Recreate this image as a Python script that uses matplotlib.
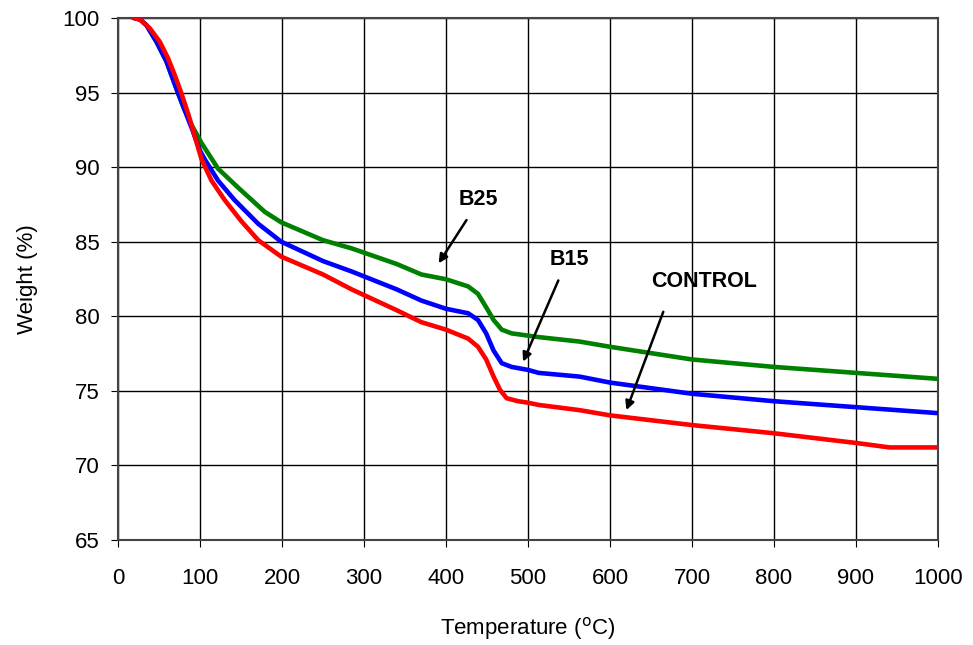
import matplotlib.pyplot as plt

# TGA curves (temperature in C, weight in %)
temp_control = [20, 27, 39, 51, 61, 69, 77, 86, 94, 102, 114, 130, 150, 171, 199, 250,
                 285, 340, 370, 400, 427, 439, 449, 458, 466, 474, 488, 500, 513, 563,
                 600, 700, 800, 900, 941, 1000]
w_control = [100, 99.9, 99.3, 98.4, 97.3, 96.2, 95.0, 93.5, 92.0, 90.5, 89.1, 87.8, 86.4,
             85.1, 84.0, 82.8, 81.8, 80.4, 79.6, 79.1, 78.5, 77.95, 77.1, 75.95, 75.05,
             74.5, 74.3, 74.2, 74.05, 73.7, 73.35, 72.7, 72.15, 71.5, 71.2, 71.2]

temp_b15 = [20, 27, 35, 47, 59, 73, 90, 100, 106, 122, 142, 171, 199, 250, 285, 340, 370,
            400, 427, 439, 449, 458, 468, 480, 500, 513, 563, 600, 700, 800, 900, 1000]
w_b15 = [100, 99.9, 99.5, 98.4, 97.1, 95.0, 92.6, 91.1, 90.5, 89.1, 87.8, 86.2, 85.0,
         83.7, 83.0, 81.8, 81.05, 80.5, 80.2, 79.75, 78.85, 77.7, 76.85, 76.6, 76.4,
         76.2, 75.95, 75.55, 74.8, 74.3, 73.9, 73.5]

temp_b25 = [20, 27, 35, 47, 59, 73, 80, 90, 102, 122, 147, 179, 199, 250, 285, 340,
            370, 400, 427, 439, 449, 458, 468, 480, 500, 513, 563, 600, 700, 800, 900, 1000]
w_b25 = [100, 99.9, 99.5, 98.4, 97.1, 95.0, 94.0, 92.8, 91.6, 89.9, 88.6, 87.0, 86.3,
         85.1, 84.55, 83.5, 82.8, 82.48, 82.0, 81.5, 80.6, 79.75, 79.1, 78.85, 78.7,
         78.6, 78.3, 77.95, 77.1, 76.6, 76.2, 75.8]

x_ticks = [0, 100, 200, 300, 400, 500, 600, 700, 800, 900, 1000]
y_ticks = [65, 70, 75, 80, 85, 90, 95, 100]

plt.rcParams['font.family'] = ['Liberation Sans', 'DejaVu Sans']

fig = plt.figure(figsize=(9.73, 6.45), dpi=100)
ax = fig.add_axes([0.1213, 0.163, 0.8427, 0.809])

ax.plot(temp_b25, w_b25, color='#008000', lw=3.3, zorder=3, solid_joinstyle='round')
ax.plot(temp_b15, w_b15, color='#0000ff', lw=3.3, zorder=4, solid_joinstyle='round')
ax.plot(temp_control, w_control, color='#ff0000', lw=3.3, zorder=5, solid_joinstyle='round')

ax.set_xlim(0, 1000)
ax.set_ylim(65, 100)
ax.set_xticks(x_ticks)
ax.set_yticks(y_ticks)
ax.tick_params(labelsize=16, direction='out', length=5, color='black')
ax.tick_params(axis='x', pad=15)
ax.tick_params(axis='y', pad=8)
ax.grid(True, color='black', lw=1)
ax.set_axisbelow(True)
for s in ax.spines.values():
    s.set_color('#444444')
    s.set_linewidth(1.5)

ax.set_xlabel('Temperature ($^{\\mathrm{o}}$C)', fontsize=16, labelpad=19)
ax.set_ylabel('Weight (%)', fontsize=16, labelpad=18)

arrow = dict(arrowstyle='-|>', color='black', lw=1.8, mutation_scale=13, shrinkA=0, shrinkB=0)
ax.annotate('', xy=(391, 83.55), xytext=(425, 86.45), arrowprops=arrow, zorder=6)
ax.annotate('', xy=(494, 76.95), xytext=(537, 82.4), arrowprops=arrow, zorder=6)
ax.annotate('', xy=(620, 73.7), xytext=(665, 80.3), arrowprops=arrow, zorder=6)
ax.text(440, 87.8, 'B25', fontsize=15.5, fontweight='bold', ha='center', va='center')
ax.text(551, 83.8, 'B15', fontsize=15.5, fontweight='bold', ha='center', va='center')
ax.text(715, 82.3, 'CONTROL', fontsize=15.5, fontweight='bold', ha='center', va='center')

fig.savefig('out.png', dpi=100)
